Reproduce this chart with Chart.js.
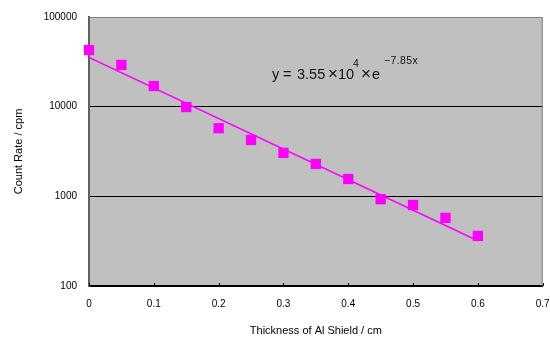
<!DOCTYPE html>
<html>
<head>
<meta charset="utf-8">
<script src="https://cdn.jsdelivr.net/npm/chart.js@4/dist/chart.umd.min.js"></script>
<style>
  html, body { margin: 0; padding: 0; background: #fff; }
  #wrap { width: 550px; height: 338px; }
</style>
</head>
<body>
<div id="wrap"><canvas id="c" width="550" height="338"></canvas></div>
<script>
const thickness = [0, 0.05, 0.1, 0.15, 0.2, 0.25, 0.3, 0.35, 0.4, 0.45, 0.5, 0.55, 0.6];
const countRate = [42800, 29200, 17000, 9900, 5750, 4250, 3050, 2300, 1560, 930, 800, 575, 362];
const trendX = [0, 0.6];
const trendY = [35500, 320];
const xTicks = [0, 0.1, 0.2, 0.3, 0.4, 0.5, 0.6, 0.7];
const yTicks = [100, 1000, 10000, 100000];
const xTitle = 'Thickness of Al Shield / cm';
const yTitle = 'Count Rate / cpm';

const FONT = "'Liberation Sans', Arial, sans-serif";

const plotBg = {
  id: 'plotBg',
  beforeDraw(chart) {
    const { ctx, chartArea: a } = chart;
    ctx.save();
    ctx.fillStyle = '#C0C0C0';
    ctx.fillRect(a.left, a.top, a.right - a.left, a.bottom - a.top);
    ctx.restore();
  },
  beforeDatasetsDraw(chart) {
    const { ctx, chartArea: a, scales } = chart;
    ctx.save();
    ctx.strokeStyle = '#808080';
    ctx.lineWidth = 1;
    ctx.beginPath();
    ctx.moveTo(a.left, a.top + 0.5);
    ctx.lineTo(a.right - 0.5, a.top + 0.5);
    ctx.lineTo(a.right - 0.5, a.bottom);
    ctx.stroke();
    ctx.strokeStyle = '#000';
    ctx.beginPath();
    xTicks.forEach(v => {
      const px = Math.round(scales.x.getPixelForValue(v)) + 0.5;
      ctx.moveTo(px, a.bottom);
      ctx.lineTo(px, a.bottom - 3);
    });
    ctx.stroke();
    ctx.restore();
  },
  afterDraw(chart) {
    const { ctx } = chart;
    ctx.save();
    ctx.fillStyle = '#111';
    ctx.textBaseline = 'alphabetic';
    const big = '14.5px ' + FONT;
    const times = '17px ' + FONT;
    const small = '10.5px ' + FONT;
    const parts = [
      ['y', big, 272, 79, 0],
      ['=', big, 283, 79, 0],
      ['3.55', big, 297, 79, 0],
      ['\u00D7', times, 328, 79, 0],
      ['10', big, 338, 79, 0],
      ['4', small, 353, 67, 0],
      ['\u00D7', times, 361, 79, 0],
      ['e', big, 372, 79, 0],
      ['\u22127.85x', small, 384, 64, 0.4]
    ];
    parts.forEach(([t, f, x, y, ls]) => {
      ctx.font = f;
      ctx.letterSpacing = ls + 'px';
      ctx.fillText(t, x, y);
    });
    ctx.restore();
  }
};

new Chart(document.getElementById('c'), {
  type: 'scatter',
  data: {
    datasets: [
      {
        type: 'line',
        data: trendX.map((v, i) => ({ x: v, y: trendY[i] })),
        borderColor: '#FF00FF',
        borderWidth: 1.5,
        pointRadius: 0,
        fill: false,
        order: 2
      },
      {
        data: thickness.map((v, i) => ({ x: v, y: countRate[i] })),
        backgroundColor: '#FF00FF',
        borderColor: '#FF00FF',
        borderWidth: 0,
        pointStyle: 'rect',
        pointRadius: 7.3,
        clip: false,
        order: 1
      }
    ]
  },
  options: {
    responsive: false,
    animation: false,
    devicePixelRatio: 1,
    layout: { padding: { top: 17, right: 6, left: 0, bottom: 0 } },
    plugins: { legend: { display: false }, tooltip: { enabled: false } },
    scales: {
      x: {
        type: 'linear',
        min: 0, max: 0.7,
        afterBuildTicks(s) { s.ticks = xTicks.map(v => ({ value: v })); },
        afterFit(s) { s.height = 52; s.paddingLeft = 0; s.paddingRight = 0; },
        grid: { display: false, drawTicks: false },
        border: { display: true, color: '#000', width: 2 },
        ticks: {
          padding: 12,
          color: '#000',
          font: { family: FONT, size: 10 },
          maxRotation: 0,
          callback: v => String(v)
        },
        title: {
          display: true, text: xTitle, color: '#000',
          font: { family: FONT, size: 11 },
          padding: { top: 14, bottom: 0 }
        }
      },
      y: {
        type: 'logarithmic',
        min: 100, max: 100000,
        afterBuildTicks(s) { s.ticks = yTicks.map(v => ({ value: v })); },
        afterFit(s) { s.width = 89; s.paddingTop = 0; s.paddingBottom = 0; },
        grid: {
          drawTicks: false,
          color: ctx => (ctx.tick && (ctx.tick.value === 1000 || ctx.tick.value === 10000)) ? '#000' : 'rgba(0,0,0,0)',
          lineWidth: 1
        },
        border: { display: true, color: '#606060', width: 2 },
        ticks: {
          padding: 12,
          color: '#000',
          font: { family: FONT, size: 10 },
          callback: v => String(v)
        },
        title: {
          display: true, text: yTitle, color: '#000',
          font: { family: FONT, size: 11 },
          padding: { top: 12, bottom: 8 }
        }
      }
    }
  },
  plugins: [plotBg]
});
</script>
</body>
</html>
